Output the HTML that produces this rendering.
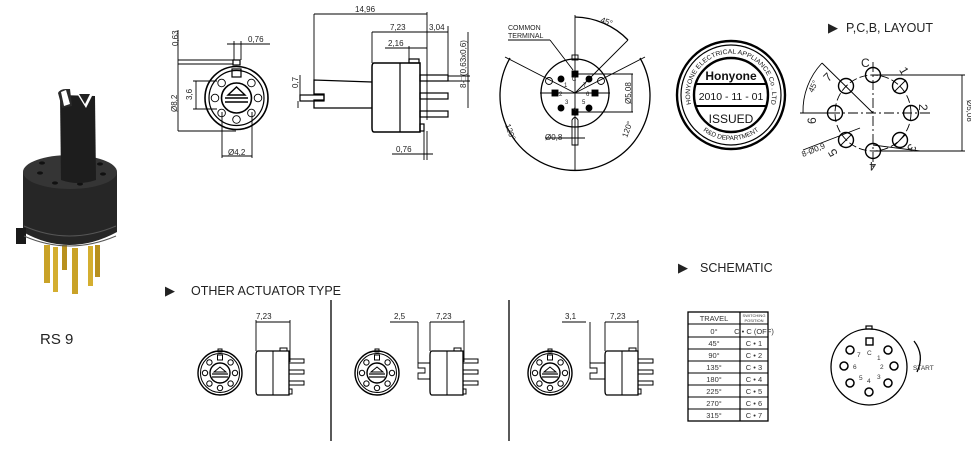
<!DOCTYPE html>
<html><head><meta charset="utf-8"><style>
html,body{margin:0;padding:0;background:#fff;}
svg{display:block;font-family:"Liberation Sans",sans-serif;}
</style></head><body>
<svg width="971" height="452" viewBox="0 0 971 452" xmlns="http://www.w3.org/2000/svg">
<defs>
<g id="front">
  <circle r="22" fill="none" stroke="#000" stroke-width="1.4"/>
  <circle r="19.5" fill="none" stroke="#000" stroke-width="1"/>
  <rect x="-2.5" y="-18" width="5" height="5" fill="none" stroke="#000"/>
  <rect x="-2" y="-24" width="4" height="3" fill="none" stroke="#000"/>
  <circle cx="10.6" cy="-10.6" r="2.7" fill="none" stroke="#000"/>
  <circle cx="15" cy="0" r="2.7" fill="none" stroke="#000"/>
  <circle cx="10.6" cy="10.6" r="2.7" fill="none" stroke="#000"/>
  <circle cx="0" cy="15" r="2.7" fill="none" stroke="#000"/>
  <circle cx="-10.6" cy="10.6" r="2.7" fill="none" stroke="#000"/>
  <circle cx="-15" cy="0" r="2.7" fill="none" stroke="#000"/>
  <circle cx="-10.6" cy="-10.6" r="2.7" fill="none" stroke="#000"/>
  <circle r="10" fill="none" stroke="#000" stroke-width="1.4"/>
  <path d="M-6,-1 L0,-6 L6,-1 Z" fill="none" stroke="#000"/>
  <line x1="-8" y1="1" x2="8" y2="1" stroke="#000" stroke-width="1.2"/>
  <line x1="-8" y1="4" x2="8" y2="4" stroke="#000" stroke-width="1.2"/>
</g>
<g id="side" fill="none" stroke="#000">
  <path d="M2,0 H33 V44 H2 Q0,44 0,40 V4 Q0,0 2,0 Z" stroke-width="1.3"/>
  <line x1="17" y1="0" x2="17" y2="44"/>
  <rect x="24" y="-3" width="7" height="3"/>
  <rect x="33" y="8" width="15" height="4"/>
  <rect x="33" y="19" width="15" height="4"/>
  <rect x="33" y="30" width="15" height="4"/>
  <rect x="33" y="38" width="3" height="5"/>
</g>
</defs>

<!-- Photo -->
<g>
  <rect x="44" y="245" width="6" height="38" fill="#c9a227"/>
  <rect x="53" y="247" width="5" height="45" fill="#d4ae30"/>
  <rect x="72" y="248" width="6" height="46" fill="#c9a227"/>
  <rect x="88" y="246" width="5" height="40" fill="#d4ae30"/>
  <rect x="95" y="245" width="5" height="32" fill="#b8901d"/>
  <rect x="62" y="245" width="5" height="25" fill="#b8901d"/>
  <path d="M23,172 L23,232 Q69,258 117,232 L117,172 Z" fill="#262626"/>
  <rect x="16" y="228" width="10" height="16" fill="#1a1a1a"/>
  <path d="M24,226 Q69,246 116,226" stroke="#555" fill="none"/>
  <path d="M24,236 Q69,256 116,236" stroke="#555" fill="none"/>
  <ellipse cx="70" cy="172" rx="47" ry="17" fill="#353535"/>
  <ellipse cx="40" cy="173" rx="3" ry="1.6" fill="#111"/><ellipse cx="55" cy="183" rx="3" ry="1.6" fill="#111"/>
  <ellipse cx="80" cy="184" rx="3" ry="1.6" fill="#111"/><ellipse cx="103" cy="174" rx="3" ry="1.6" fill="#111"/>
  <ellipse cx="42" cy="163" rx="3" ry="1.6" fill="#111"/><ellipse cx="100" cy="164" rx="3" ry="1.6" fill="#111"/>
  <path d="M60,95 L95,96 L96,180 Q78,186 61,180 Z" fill="#1d1d1d"/>
  <path d="M58,93 Q60,89 66,89 L70,89 L72,106 L62,108 Z" fill="#2a2a2a"/>
  <path d="M61,92 L66,90 L70,104 L64,106 Z" fill="#fff"/>
  <path d="M76,92 L94,92 L86,108 Z" fill="#fff"/>
  <path d="M79,94 L90,94 L85,104 Z" fill="#222"/>
  <text x="40" y="344" font-size="15" fill="#222">RS 9</text>
</g>

<g fill="none" stroke="#000" stroke-width="0.9">
<!-- Front view top -->
  <circle cx="236.5" cy="98" r="31.5" stroke-width="1.6"/>
  <circle cx="236.5" cy="98" r="27.5" stroke-width="1.2"/>
  <rect x="232" y="69" width="9" height="8" stroke-width="1.2"/>
  <rect x="233" y="60" width="7" height="5" stroke-width="1.2"/>
  <circle cx="251.4" cy="83" r="3.8"/><circle cx="258" cy="98" r="3.8"/>
  <circle cx="251.4" cy="113" r="3.8"/><circle cx="236.5" cy="119.5" r="3.8"/>
  <circle cx="221.6" cy="113" r="3.8"/><circle cx="215" cy="98" r="3.8"/>
  <circle cx="221.6" cy="83" r="3.8"/>
  <circle cx="236.5" cy="98" r="15" stroke-width="1.6"/>
  <path d="M228,95 L236.5,87 L245,95 Z" stroke-width="1.4"/>
  <line x1="225" y1="98" x2="248" y2="98" stroke-width="1.5"/>
  <line x1="225" y1="102" x2="248" y2="102" stroke-width="1.5"/>
  <line x1="178" y1="60" x2="233" y2="60"/>
  <line x1="178" y1="64" x2="233" y2="64"/>
  <line x1="178" y1="30" x2="178" y2="131"/>
  <line x1="178" y1="131" x2="236" y2="131"/>
  <line x1="193" y1="81" x2="217" y2="81"/>
  <line x1="193" y1="109" x2="217" y2="109"/>
  <line x1="196" y1="81" x2="196" y2="109"/>
  <line x1="234" y1="41" x2="234" y2="60"/><line x1="241" y1="41" x2="241" y2="60"/>
  <line x1="227" y1="44" x2="270" y2="44"/>
  <line x1="222" y1="112" x2="222" y2="158"/><line x1="252" y1="112" x2="252" y2="158"/>
  <line x1="222" y1="156" x2="252" y2="156"/>

<!-- Side view top -->
  <path d="M374,63 H420 V132 H374 Q372,132 372,128 V67 Q372,63 374,63 Z" stroke-width="1.5"/>
  <line x1="400" y1="63" x2="400" y2="132" stroke-width="1.2"/>
  <rect x="409" y="59" width="10" height="4" stroke-width="1.2"/>
  <path d="M372,82 L314,80 V94 H324 V100 H314 V108 L372,108" stroke-width="1.3"/>
  <rect x="300" y="95" width="24" height="6" stroke-width="1.2"/>
  <rect x="420" y="75" width="28" height="6" stroke-width="1.2"/>
  <rect x="420" y="93" width="28" height="6" stroke-width="1.2"/>
  <rect x="420" y="111" width="28" height="6" stroke-width="1.2"/>
  <rect x="420" y="124" width="4" height="7" stroke-width="1.2"/>
  <line x1="314" y1="14" x2="314" y2="80"/><line x1="427" y1="12" x2="427" y2="120"/>
  <line x1="314" y1="14" x2="427" y2="14"/>
  <line x1="372" y1="32" x2="372" y2="63"/><line x1="372" y1="32" x2="448" y2="32"/>
  <line x1="448" y1="26" x2="448" y2="75"/>
  <line x1="385" y1="48" x2="427" y2="48"/><line x1="409" y1="46" x2="409" y2="59"/>
  <line x1="448" y1="76" x2="470" y2="76"/><line x1="448" y1="81" x2="470" y2="81"/>
  <line x1="468" y1="32" x2="468" y2="108"/>
  <line x1="300" y1="95" x2="300" y2="75"/><line x1="298" y1="101" x2="298" y2="108"/>
  <line x1="392" y1="154" x2="433" y2="154"/>
  <line x1="424" y1="131" x2="424" y2="160"/><line x1="427" y1="131" x2="427" y2="160"/>

<!-- Terminal view -->
  <circle cx="575" cy="93" r="34" stroke-width="1.3"/>
  <path d="M510,58 A75,75 0 1,0 640,58" stroke-width="1.3"/>
  <path d="M575,17 A76,76 0 0,1 628,40" stroke-width="1.3"/>
  <line x1="575" y1="15" x2="575" y2="170"/>
  <line x1="505" y1="57" x2="575" y2="93"/><line x1="645" y1="57" x2="575" y2="93"/>
  <line x1="575" y1="93" x2="628" y2="40"/>
  <line x1="540" y1="93" x2="610" y2="93"/>
  <line x1="508" y1="40" x2="550" y2="40"/><line x1="550" y1="40" x2="573" y2="70"/>
  <rect x="572" y="55" width="6" height="5"/>
  <rect x="572" y="71" width="6" height="6" fill="#000"/>
  <rect x="572" y="109" width="6" height="6" fill="#000"/>
  <rect x="552" y="90" width="6" height="6" fill="#000"/>
  <rect x="592" y="90" width="6" height="6" fill="#000"/>
  <circle cx="561" cy="79" r="3" fill="#000"/><circle cx="589" cy="79" r="3" fill="#000"/>
  <circle cx="561" cy="108" r="3" fill="#000"/><circle cx="589" cy="108" r="3" fill="#000"/>
  <circle cx="549" cy="81" r="3.5"/><circle cx="601" cy="81" r="3.5"/>
  <path d="M572,120 Q575,115 578,120 V145 H572 Z"/>
  <line x1="578" y1="74" x2="633" y2="74"/><line x1="578" y1="112" x2="633" y2="112"/>
  <line x1="632" y1="74" x2="632" y2="112"/>
  <line x1="545" y1="138" x2="585" y2="138"/>

<!-- Stamp -->
  <circle cx="731" cy="95" r="54" stroke-width="2.4"/>
  <circle cx="731" cy="95" r="50" stroke-width="1.2"/>
  <circle cx="731" cy="95" r="37" stroke-width="2.4"/>
  <line x1="696" y1="84" x2="766" y2="84" stroke-width="2"/>
  <line x1="696" y1="106" x2="766" y2="106" stroke-width="2"/>

<!-- PCB -->
  <circle cx="873" cy="113" r="38" stroke-dasharray="8,3"/>
  <line x1="873" y1="62" x2="873" y2="168" stroke-dasharray="10,3,2,3"/>
  <line x1="812" y1="113" x2="930" y2="113" stroke-dasharray="10,3,2,3"/>
  <line x1="822" y1="63" x2="873" y2="113"/>
  <path d="M822,63 A70,70 0 0,0 803,113" />
  <line x1="800" y1="113" x2="835" y2="113"/>
  <line x1="803" y1="150" x2="860" y2="128"/>
  <line x1="873" y1="75" x2="965" y2="75"/><line x1="873" y1="151" x2="965" y2="151"/>
  <line x1="962" y1="75" x2="962" y2="151"/>
  <g stroke-width="1.4">
  <circle cx="873" cy="75" r="7.5"/><circle cx="900" cy="86" r="7.5"/>
  <circle cx="911" cy="113" r="7.5"/><circle cx="900" cy="140" r="7.5"/>
  <circle cx="873" cy="151" r="7.5"/><circle cx="846" cy="140" r="7.5"/>
  <circle cx="835" cy="113" r="7.5"/><circle cx="846" cy="86" r="7.5"/>
  </g>
  <line x1="894" y1="92" x2="906" y2="80"/><line x1="894" y1="146" x2="906" y2="134"/>
  <line x1="840" y1="146" x2="852" y2="134"/><line x1="873" y1="145" x2="920" y2="151"/>

<!-- Other actuators -->
  <line x1="331" y1="300" x2="331" y2="441" stroke-width="1.3"/>
  <line x1="509" y1="300" x2="509" y2="441" stroke-width="1.3"/>
  <line x1="256" y1="320" x2="256" y2="351"/><line x1="290" y1="320" x2="290" y2="362"/>
  <line x1="256" y1="322" x2="290" y2="322"/>
  <line x1="418" y1="322" x2="418" y2="363"/><line x1="430" y1="322" x2="430" y2="351"/>
  <line x1="464" y1="320" x2="464" y2="362"/>
  <line x1="390" y1="322" x2="418" y2="322"/><line x1="430" y1="322" x2="464" y2="322"/>
  <path d="M430,363 H418 V368 H425 V373 H418 V379 H430"/>
  <line x1="590" y1="322" x2="590" y2="363"/><line x1="605" y1="322" x2="605" y2="351"/>
  <line x1="638" y1="320" x2="638" y2="362"/>
  <line x1="562" y1="322" x2="586" y2="322"/><line x1="605" y1="322" x2="638" y2="322"/>
  <path d="M605,363 H590 V368 H597 V373 H590 V379 H605"/>

<!-- Schematic table -->
  <rect x="688" y="312" width="80" height="109" stroke-width="1.3"/>
  <line x1="740" y1="312" x2="740" y2="421" stroke-width="1.2"/>
  <line x1="688" y1="324" x2="768" y2="324"/><line x1="688" y1="337" x2="768" y2="337"/>
  <line x1="688" y1="349" x2="768" y2="349"/><line x1="688" y1="361" x2="768" y2="361"/>
  <line x1="688" y1="373" x2="768" y2="373"/><line x1="688" y1="385" x2="768" y2="385"/>
  <line x1="688" y1="397" x2="768" y2="397"/><line x1="688" y1="409" x2="768" y2="409"/>

<!-- Schematic circle -->
  <circle cx="869" cy="367" r="38" stroke-width="1.3"/>
  <rect x="866" y="326" width="6" height="3" stroke-width="1.2"/>
  <rect x="866" y="338" width="7" height="7" stroke-width="1.4"/>
  <g stroke-width="1.5">
  <circle cx="850" cy="350" r="4"/><circle cx="888" cy="350" r="4"/>
  <circle cx="844" cy="366" r="4"/><circle cx="894" cy="366" r="4"/>
  <circle cx="850" cy="383" r="4"/><circle cx="888" cy="383" r="4"/>
  <circle cx="869" cy="392" r="4"/>
  </g>
  <path d="M914,341 Q925,355 917,372" stroke-width="1.3"/>
</g>

<use href="#front" x="220" y="373"/><use href="#front" x="377" y="373"/><use href="#front" x="550" y="373"/>
<use href="#side" x="256" y="351"/><use href="#side" x="430" y="351"/><use href="#side" x="605" y="351"/>

<!-- Text -->
<g font-size="8" fill="#222">
  <text x="0" y="0" transform="translate(178,46) rotate(-90)">0,63</text>
  <text x="248" y="42">0,76</text>
  <text x="0" y="0" transform="translate(177,112) rotate(-90)">Ø8,2</text>
  <text x="0" y="0" transform="translate(192,100) rotate(-90)">3,6</text>
  <text x="228" y="155">Ø4,2</text>
  <text x="355" y="12">14,96</text>
  <text x="390" y="30">7,23</text>
  <text x="429" y="30">3,04</text>
  <text x="388" y="46">2,16</text>
  <text x="0" y="0" transform="translate(298,88) rotate(-90)">0,7</text>
  <text x="0" y="0" transform="translate(466,88) rotate(-90)">8-□(0,63x0,6)</text>
  <text x="396" y="152">0,76</text>
  <text x="0" y="0" transform="translate(631,104) rotate(-90)">Ø5,08</text>
  <text x="545" y="140">Ø0,8</text>
  <text x="600" y="22" transform="rotate(20 600 22)">45°</text>
  <text x="0" y="0" transform="translate(505,125) rotate(70)">120°</text>
  <text x="0" y="0" transform="translate(627,138) rotate(-70)">120°</text>
  <text x="0" y="0" transform="translate(813,93) rotate(-65)">45°</text>
  <text x="803" y="157" transform="rotate(-22 803 157)">8-Ø0,9</text>
  <text x="0" y="0" transform="translate(967,100) rotate(90)">Ø5,08</text>
  <text x="256" y="319">7,23</text>
  <text x="394" y="319">2,5</text>
  <text x="436" y="319">7,23</text>
  <text x="565" y="319">3,1</text>
  <text x="610" y="319">7,23</text>
</g>
<g font-size="7" fill="#222">
  <text x="508" y="30">COMMON</text><text x="508" y="38">TERMINAL</text>
  <text x="572" y="81" font-size="6">C</text>
  <text x="564" y="87" font-size="6">1</text><text x="583" y="87" font-size="6">7</text>
  <text x="559" y="96" font-size="6">2</text><text x="586" y="96" font-size="6">6</text>
  <text x="565" y="104" font-size="6">3</text><text x="582" y="104" font-size="6">5</text>
  <text x="573" y="111" font-size="6">4</text>
</g>
<g font-size="12" fill="#222">
  <text x="861" y="67">C</text>
  <text x="900" y="74" transform="rotate(60 903 71)">1</text>
  <text x="919" y="110" transform="rotate(90 922 107)">2</text>
  <text x="908" y="150" transform="rotate(120 911 147)">3</text>
  <text x="870" y="170" transform="rotate(180 873 166)">4</text>
  <text x="830" y="157" transform="rotate(-120 833 153)">5</text>
  <text x="816" y="116" transform="rotate(-90 820 120)">6</text>
  <text x="824" y="80" transform="rotate(-45 829 76)">7</text>
</g>
<text x="828" y="32" font-size="13" fill="#222">▶</text>
<text x="846" y="32" font-size="12.5" fill="#222">P,C,B,  LAYOUT</text>
<text x="678" y="272" font-size="13" fill="#222">▶</text>
<text x="700" y="272" font-size="12.5" fill="#222">SCHEMATIC</text>
<text x="165" y="295" font-size="13" fill="#222">▶</text>
<text x="191" y="295" font-size="12.5" fill="#222">OTHER ACTUATOR TYPE</text>

<!-- stamp text -->
<g fill="#111" text-anchor="middle">
  <text x="731" y="80" font-size="12" font-weight="bold">Honyone</text>
  <text x="731" y="100" font-size="10.5">2010 - 11 - 01</text>
  <text x="731" y="123" font-size="12">ISSUED</text>
  <path id="arcTop" d="M693,110 A41,41 0 1,1 769,110" fill="none"/>
  <text font-size="6.5"><textPath href="#arcTop" startOffset="50%" textLength="148" lengthAdjust="spacingAndGlyphs">HONYONE ELECTRICAL APPLIANCE Co . LTD</textPath></text>
  <path id="arcBot" d="M696,124 A46,46 0 0,0 766,124" fill="none"/>
  <text font-size="6.5"><textPath href="#arcBot" startOffset="50%">R&amp;D  DEPARTMENT</textPath></text>
</g>

<!-- table text -->
<g font-size="7.5" fill="#333" text-anchor="middle">
  <text x="714" y="321">TRAVEL</text>
  <text x="754" y="317" font-size="4">SWITCHING</text><text x="754" y="322" font-size="4">POSITION</text>
  <text x="714" y="334">0°</text><text x="754" y="334">C • C (OFF)</text>
  <text x="714" y="346">45°</text><text x="754" y="346">C • 1</text>
  <text x="714" y="358">90°</text><text x="754" y="358">C • 2</text>
  <text x="714" y="370">135°</text><text x="754" y="370">C • 3</text>
  <text x="714" y="382">180°</text><text x="754" y="382">C • 4</text>
  <text x="714" y="394">225°</text><text x="754" y="394">C • 5</text>
  <text x="714" y="406">270°</text><text x="754" y="406">C • 6</text>
  <text x="714" y="418">315°</text><text x="754" y="418">C • 7</text>
</g>
<g font-size="6.5" fill="#333">
  <text x="867" y="355">C</text><text x="857" y="357">7</text><text x="877" y="360">1</text>
  <text x="853" y="369">6</text><text x="880" y="369">2</text>
  <text x="859" y="380">5</text><text x="867" y="383">4</text><text x="877" y="379">3</text>
  <text x="913" y="370">START</text>
</g>
</svg>
</body></html>
